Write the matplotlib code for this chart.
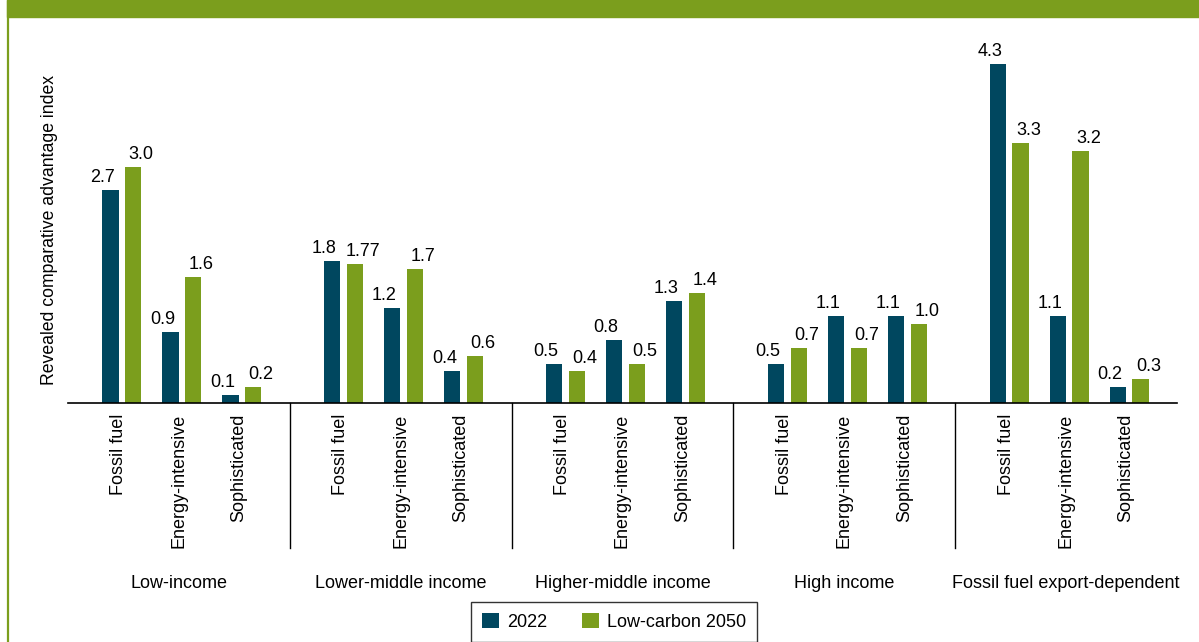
import numpy as np
import matplotlib.pyplot as plt
from matplotlib.patches import Rectangle
from matplotlib.lines import Line2D
import matplotlib.transforms as mtransforms

plt.rcParams['font.family'] = ['Liberation Sans', 'DejaVu Sans']

# data
groups = ["Low-income", "Lower-middle income", "Higher-middle income",
          "High income", "Fossil fuel export-dependent"]
categories = ["Fossil fuel", "Energy-intensive", "Sophisticated"]
vals_2022 = [[2.7, 0.9, 0.1], [1.8, 1.2, 0.4], [0.5, 0.8, 1.3],
             [0.5, 1.1, 1.1], [4.3, 1.1, 0.2]]
vals_2050 = [[3.0, 1.6, 0.2], [1.77, 1.7, 0.6], [0.4, 0.5, 1.4],
             [0.7, 0.7, 1.0], [3.3, 3.2, 0.3]]
labels_2022 = [["2.7", "0.9", "0.1"], ["1.8", "1.2", "0.4"], ["0.5", "0.8", "1.3"],
               ["0.5", "1.1", "1.1"], ["4.3", "1.1", "0.2"]]
labels_2050 = [["3.0", "1.6", "0.2"], ["1.77", "1.7", "0.6"], ["0.4", "0.5", "1.4"],
               ["0.7", "0.7", "1.0"], ["3.3", "3.2", "0.3"]]
series = ["2022", "Low-carbon 2050"]

dark = "#00475f"
green = "#7b9e1d"
fs = 13

W, H = 1199, 642
fig = plt.figure(figsize=(W / 100, H / 100), dpi=100)
# axes: x 68..1177 px, baseline at y=403 px, top at y=20 px
ax = fig.add_axes([68 / W, 1 - 403 / H, (1177 - 68) / W, (403 - 20) / H])

gw = 3.7      # group width in category units
off = 0.19    # bar offset from pair centre
bw = 0.27

for g in range(len(groups)):
    xs = g * gw + 0.9 + np.arange(len(categories))
    ax.bar(xs - off, vals_2022[g], bw, color=dark, label=series[0] if g == 0 else None)
    ax.bar(xs + off, vals_2050[g], bw, color=green, label=series[1] if g == 0 else None)
    for i, x in enumerate(xs):
        ax.annotate(labels_2022[g][i], (x - off, vals_2022[g][i]), xytext=(-8, 4),
                    textcoords='offset pixels', ha='center', va='bottom', fontsize=fs)
        ax.annotate(labels_2050[g][i], (x + off, vals_2050[g][i]), xytext=(8, 4),
                    textcoords='offset pixels', ha='center', va='bottom', fontsize=fs)
        ax.annotate(categories[i], (x - 0.05, 0), xytext=(0, -11),
                    textcoords='offset pixels', ha='center', va='top',
                    rotation=90, fontsize=fs, annotation_clip=False)
    ax.annotate(groups[g], ((g + 0.5) * gw, 0), xytext=(0, -180),
                textcoords='offset pixels', ha='center', va='center',
                fontsize=fs, annotation_clip=False)

trans = mtransforms.blended_transform_factory(ax.transData, ax.transAxes)
for g in range(1, len(groups)):
    ax.plot([g * gw, g * gw], [0, -145 / 383], color='black', lw=1,
            transform=trans, clip_on=False)

ax.set_xlim(0, gw * len(groups))
ax.set_ylim(0, 383 / 78.8)
for s in ['top', 'right', 'left']:
    ax.spines[s].set_visible(False)
ax.spines['bottom'].set_linewidth(1.2)
ax.set_xticks([])
ax.set_yticks([])

fig.text(50 / W, 1 - 230 / H, "Revealed comparative advantage index", rotation=90,
         ha='center', va='center', fontsize=12.7)

leg = fig.legend(loc='upper center', bbox_to_anchor=(614 / W, 1 - 602 / H), ncol=2,
                 fontsize=fs, frameon=True, fancybox=False, edgecolor='black',
                 borderpad=0.6, borderaxespad=0, handlelength=0.95, handleheight=0.95,
                 handletextpad=0.45, columnspacing=1.9)
leg.get_frame().set_linewidth(1.0)

# header band and left border
fig.patches.append(Rectangle((7 / W, 1 - 17 / H), 1 - 7 / W, 17 / H,
                             transform=fig.transFigure, color=green, zorder=0))
fig.lines.append(Line2D([8 / W, 8 / W], [0, 1], transform=fig.transFigure,
                        color=green, lw=1.6))

fig.savefig("out.png", dpi=100)
